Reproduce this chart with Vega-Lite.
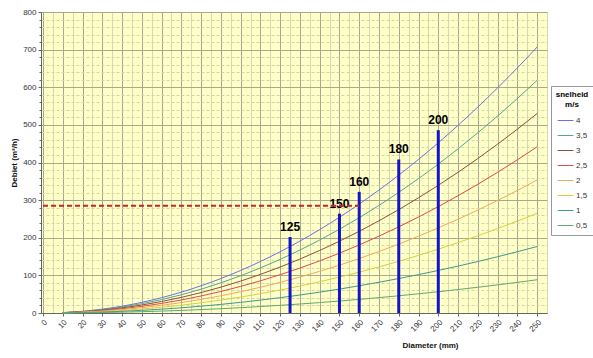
{
  "$schema": "https://vega.github.io/schema/vega-lite/v6.json",
  "width": 506,
  "height": 301,
  "autosize": {"type": "none"},
  "padding": {"left": 41, "top": 12, "right": 46, "bottom": 45},
  "background": "white",
  "config": {
    "font": "Liberation Sans",
    "view": {"fill": "#FFFFC8", "stroke": "#B8B8A0", "strokeWidth": 1},
    "axis": {
      "labelFont": "Liberation Sans",
      "labelFontSize": 8,
      "labelColor": "#333333",
      "titleFont": "Liberation Sans",
      "titleFontSize": 8,
      "titleFontWeight": "bold",
      "titleColor": "#111111",
      "domainColor": "#666666",
      "tickColor": "#666666",
      "tickSize": 3,
      "labelPadding": 2
    }
  },
  "resolve": {"axis": {"x": "independent", "y": "independent"}},
  "layer": [
    {
      "data": {
        "values": [
          {"D":10,"v":"4","Q":1.13},{"D":20,"v":"4","Q":4.52},{"D":30,"v":"4","Q":10.18},{"D":40,"v":"4","Q":18.10},{"D":50,"v":"4","Q":28.27},{"D":60,"v":"4","Q":40.72},{"D":70,"v":"4","Q":55.42},{"D":80,"v":"4","Q":72.38},{"D":90,"v":"4","Q":91.61},{"D":100,"v":"4","Q":113.10},{"D":110,"v":"4","Q":136.85},{"D":120,"v":"4","Q":162.86},{"D":130,"v":"4","Q":191.14},{"D":140,"v":"4","Q":221.67},{"D":150,"v":"4","Q":254.47},{"D":160,"v":"4","Q":289.53},{"D":170,"v":"4","Q":326.85},{"D":180,"v":"4","Q":366.44},{"D":190,"v":"4","Q":408.28},{"D":200,"v":"4","Q":452.39},{"D":210,"v":"4","Q":498.76},{"D":220,"v":"4","Q":547.40},{"D":230,"v":"4","Q":598.28},{"D":240,"v":"4","Q":651.44},{"D":250,"v":"4","Q":706.86},
          {"D":10,"v":"3,5","Q":0.99},{"D":20,"v":"3,5","Q":3.96},{"D":30,"v":"3,5","Q":8.91},{"D":40,"v":"3,5","Q":15.83},{"D":50,"v":"3,5","Q":24.74},{"D":60,"v":"3,5","Q":35.63},{"D":70,"v":"3,5","Q":48.49},{"D":80,"v":"3,5","Q":63.34},{"D":90,"v":"3,5","Q":80.16},{"D":100,"v":"3,5","Q":98.96},{"D":110,"v":"3,5","Q":119.74},{"D":120,"v":"3,5","Q":142.50},{"D":130,"v":"3,5","Q":167.24},{"D":140,"v":"3,5","Q":193.96},{"D":150,"v":"3,5","Q":222.66},{"D":160,"v":"3,5","Q":253.34},{"D":170,"v":"3,5","Q":285.99},{"D":180,"v":"3,5","Q":320.63},{"D":190,"v":"3,5","Q":357.25},{"D":200,"v":"3,5","Q":395.84},{"D":210,"v":"3,5","Q":436.42},{"D":220,"v":"3,5","Q":478.98},{"D":230,"v":"3,5","Q":523.50},{"D":240,"v":"3,5","Q":570.01},{"D":250,"v":"3,5","Q":618.50},
          {"D":10,"v":"3","Q":0.85},{"D":20,"v":"3","Q":3.39},{"D":30,"v":"3","Q":7.63},{"D":40,"v":"3","Q":13.57},{"D":50,"v":"3","Q":21.21},{"D":60,"v":"3","Q":30.54},{"D":70,"v":"3","Q":41.56},{"D":80,"v":"3","Q":54.29},{"D":90,"v":"3","Q":68.71},{"D":100,"v":"3","Q":84.82},{"D":110,"v":"3","Q":102.64},{"D":120,"v":"3","Q":122.15},{"D":130,"v":"3","Q":143.35},{"D":140,"v":"3","Q":166.25},{"D":150,"v":"3","Q":190.85},{"D":160,"v":"3","Q":217.15},{"D":170,"v":"3","Q":245.14},{"D":180,"v":"3","Q":274.83},{"D":190,"v":"3","Q":306.21},{"D":200,"v":"3","Q":339.29},{"D":210,"v":"3","Q":374.07},{"D":220,"v":"3","Q":410.55},{"D":230,"v":"3","Q":448.71},{"D":240,"v":"3","Q":488.58},{"D":250,"v":"3","Q":530.14},
          {"D":10,"v":"2,5","Q":0.71},{"D":20,"v":"2,5","Q":2.83},{"D":30,"v":"2,5","Q":6.36},{"D":40,"v":"2,5","Q":11.31},{"D":50,"v":"2,5","Q":17.67},{"D":60,"v":"2,5","Q":25.45},{"D":70,"v":"2,5","Q":34.64},{"D":80,"v":"2,5","Q":45.24},{"D":90,"v":"2,5","Q":57.26},{"D":100,"v":"2,5","Q":70.69},{"D":110,"v":"2,5","Q":85.53},{"D":120,"v":"2,5","Q":101.79},{"D":130,"v":"2,5","Q":119.46},{"D":140,"v":"2,5","Q":138.54},{"D":150,"v":"2,5","Q":159.04},{"D":160,"v":"2,5","Q":180.96},{"D":170,"v":"2,5","Q":204.28},{"D":180,"v":"2,5","Q":229.02},{"D":190,"v":"2,5","Q":255.18},{"D":200,"v":"2,5","Q":282.74},{"D":210,"v":"2,5","Q":311.73},{"D":220,"v":"2,5","Q":342.13},{"D":230,"v":"2,5","Q":373.93},{"D":240,"v":"2,5","Q":407.15},{"D":250,"v":"2,5","Q":441.79},
          {"D":10,"v":"2","Q":0.57},{"D":20,"v":"2","Q":2.26},{"D":30,"v":"2","Q":5.09},{"D":40,"v":"2","Q":9.05},{"D":50,"v":"2","Q":14.14},{"D":60,"v":"2","Q":20.36},{"D":70,"v":"2","Q":27.71},{"D":80,"v":"2","Q":36.19},{"D":90,"v":"2","Q":45.80},{"D":100,"v":"2","Q":56.55},{"D":110,"v":"2","Q":68.42},{"D":120,"v":"2","Q":81.43},{"D":130,"v":"2","Q":95.57},{"D":140,"v":"2","Q":110.84},{"D":150,"v":"2","Q":127.23},{"D":160,"v":"2","Q":144.76},{"D":170,"v":"2","Q":163.43},{"D":180,"v":"2","Q":183.22},{"D":190,"v":"2","Q":204.14},{"D":200,"v":"2","Q":226.19},{"D":210,"v":"2","Q":249.38},{"D":220,"v":"2","Q":273.70},{"D":230,"v":"2","Q":299.14},{"D":240,"v":"2","Q":325.72},{"D":250,"v":"2","Q":353.43},
          {"D":10,"v":"1,5","Q":0.42},{"D":20,"v":"1,5","Q":1.70},{"D":30,"v":"1,5","Q":3.82},{"D":40,"v":"1,5","Q":6.79},{"D":50,"v":"1,5","Q":10.60},{"D":60,"v":"1,5","Q":15.27},{"D":70,"v":"1,5","Q":20.78},{"D":80,"v":"1,5","Q":27.14},{"D":90,"v":"1,5","Q":34.35},{"D":100,"v":"1,5","Q":42.41},{"D":110,"v":"1,5","Q":51.32},{"D":120,"v":"1,5","Q":61.07},{"D":130,"v":"1,5","Q":71.68},{"D":140,"v":"1,5","Q":83.13},{"D":150,"v":"1,5","Q":95.43},{"D":160,"v":"1,5","Q":108.57},{"D":170,"v":"1,5","Q":122.57},{"D":180,"v":"1,5","Q":137.41},{"D":190,"v":"1,5","Q":153.11},{"D":200,"v":"1,5","Q":169.65},{"D":210,"v":"1,5","Q":187.04},{"D":220,"v":"1,5","Q":205.28},{"D":230,"v":"1,5","Q":224.36},{"D":240,"v":"1,5","Q":244.29},{"D":250,"v":"1,5","Q":265.07},
          {"D":10,"v":"1","Q":0.28},{"D":20,"v":"1","Q":1.13},{"D":30,"v":"1","Q":2.54},{"D":40,"v":"1","Q":4.52},{"D":50,"v":"1","Q":7.07},{"D":60,"v":"1","Q":10.18},{"D":70,"v":"1","Q":13.85},{"D":80,"v":"1","Q":18.10},{"D":90,"v":"1","Q":22.90},{"D":100,"v":"1","Q":28.27},{"D":110,"v":"1","Q":34.21},{"D":120,"v":"1","Q":40.72},{"D":130,"v":"1","Q":47.78},{"D":140,"v":"1","Q":55.42},{"D":150,"v":"1","Q":63.62},{"D":160,"v":"1","Q":72.38},{"D":170,"v":"1","Q":81.71},{"D":180,"v":"1","Q":91.61},{"D":190,"v":"1","Q":102.07},{"D":200,"v":"1","Q":113.10},{"D":210,"v":"1","Q":124.69},{"D":220,"v":"1","Q":136.85},{"D":230,"v":"1","Q":149.57},{"D":240,"v":"1","Q":162.86},{"D":250,"v":"1","Q":176.71},
          {"D":10,"v":"0,5","Q":0.14},{"D":20,"v":"0,5","Q":0.57},{"D":30,"v":"0,5","Q":1.27},{"D":40,"v":"0,5","Q":2.26},{"D":50,"v":"0,5","Q":3.53},{"D":60,"v":"0,5","Q":5.09},{"D":70,"v":"0,5","Q":6.93},{"D":80,"v":"0,5","Q":9.05},{"D":90,"v":"0,5","Q":11.45},{"D":100,"v":"0,5","Q":14.14},{"D":110,"v":"0,5","Q":17.11},{"D":120,"v":"0,5","Q":20.36},{"D":130,"v":"0,5","Q":23.89},{"D":140,"v":"0,5","Q":27.71},{"D":150,"v":"0,5","Q":31.81},{"D":160,"v":"0,5","Q":36.19},{"D":170,"v":"0,5","Q":40.86},{"D":180,"v":"0,5","Q":45.80},{"D":190,"v":"0,5","Q":51.04},{"D":200,"v":"0,5","Q":56.55},{"D":210,"v":"0,5","Q":62.35},{"D":220,"v":"0,5","Q":68.43},{"D":230,"v":"0,5","Q":74.79},{"D":240,"v":"0,5","Q":81.43},{"D":250,"v":"0,5","Q":88.36}
        ]
      },
      "mark": {"type": "line", "strokeWidth": 1, "interpolate": "monotone"},
      "encoding": {
        "x": {
          "field": "D", "type": "quantitative",
          "scale": {"domain": [-1, 255], "nice": false, "zero": false},
          "axis": {
            "values": [0,10,20,30,40,50,60,70,80,90,100,110,120,130,140,150,160,170,180,190,200,210,220,230,240,250],
            "labelAngle": -45,
            "grid": true, "gridColor": "#A8A890", "gridWidth": 1,
            "title": "Diameter (mm)",
            "titleX": 389, "titleY": 28, "titleAnchor": "middle", "titleAlign": "center",
            "labelOverlap": false
          }
        },
        "y": {
          "field": "Q", "type": "quantitative",
          "scale": {"domain": [0, 800], "nice": false},
          "axis": {
            "values": [0,100,200,300,400,500,600,700,800],
            "grid": true, "gridColor": "#A8A890", "gridWidth": 1,
            "title": "Debiet (m³/h)",
            "labelOverlap": false
          }
        },
        "color": {
          "field": "v", "type": "nominal",
          "scale": {
            "domain": ["4","3,5","3","2,5","2","1,5","1","0,5"],
            "range": ["#6E6EE8","#50A890","#8E4E40","#E24848","#F2A858","#D8D040","#3E9A8A","#62A872"]
          },
          "legend": {
            "orient": "none", "legendX": 510, "legendY": 74,
            "title": ["snelheid", "m/s"],
            "titleFontSize": 8, "titleFontWeight": "bold", "titleFont": "Liberation Sans",
            "titleAnchor": "middle", "titleAlign": "center", "titlePadding": 3,
            "labelFontSize": 8, "labelFont": "Liberation Sans", "labelColor": "#333333",
            "symbolType": "stroke", "symbolSize": 250, "symbolStrokeWidth": 1,
            "rowPadding": 2, "labelOffset": 2,
            "strokeColor": "#999999", "padding": 5, "fillColor": "#FFFFFF"
          }
        }
      }
    },
    {
      "data": {
        "values": [
          {"D": 125, "Q": 202, "label": "125"},
          {"D": 150, "Q": 264, "label": "150"},
          {"D": 160, "Q": 322, "label": "160"},
          {"D": 180, "Q": 408, "label": "180"},
          {"D": 200, "Q": 486, "label": "200"}
        ]
      },
      "layer": [
        {
          "mark": {"type": "rule", "strokeWidth": 3, "color": "#1414C8"},
          "encoding": {
            "x": {"field": "D", "type": "quantitative", "scale": {"domain": [-1, 255], "nice": false, "zero": false}, "axis": null},
            "y": {"field": "Q", "type": "quantitative", "scale": {"domain": [0, 800], "nice": false}, "axis": null},
            "y2": {"datum": 0}
          }
        },
        {
          "mark": {"type": "text", "fontWeight": "bold", "fontSize": 12, "font": "Liberation Sans", "color": "#000000", "baseline": "alphabetic", "dy": -6},
          "encoding": {
            "x": {"field": "D", "type": "quantitative", "scale": {"domain": [-1, 255], "nice": false, "zero": false}, "axis": null},
            "y": {"field": "Q", "type": "quantitative", "scale": {"domain": [0, 800], "nice": false}, "axis": null},
            "text": {"field": "label"}
          }
        }
      ]
    },
    {
      "data": {"values": [{"D0": 0, "D1": 160, "Q": 285}]},
      "mark": {"type": "rule", "strokeWidth": 2, "color": "#CC2222", "strokeDash": [5, 3]},
      "encoding": {
        "x": {
          "field": "D0", "type": "quantitative",
          "scale": {"domain": [-1, 255], "nice": false, "zero": false},
          "axis": {
            "orient": "top",
            "values": [5,15,25,35,45,55,65,75,85,95,105,115,125,135,145,155,165,175,185,195,205,215,225,235,245,255],
            "grid": true, "gridColor": "#D8D8B0", "gridWidth": 1,
            "labels": false, "ticks": false, "domain": false, "title": null
          }
        },
        "x2": {"field": "D1"},
        "y": {
          "field": "Q", "type": "quantitative",
          "scale": {"domain": [0, 800], "nice": false},
          "axis": {
            "orient": "left",
            "values": [20,40,60,80,120,140,160,180,220,240,260,280,320,340,360,380,420,440,460,480,520,540,560,580,620,640,660,680,720,740,760,780],
            "grid": true, "gridColor": "#D2D2AC", "gridWidth": 1, "gridDash": [3, 2],
            "labels": false, "ticks": true, "tickSize": 2, "domain": false, "title": null
          }
        }
      }
    }
  ]
}
